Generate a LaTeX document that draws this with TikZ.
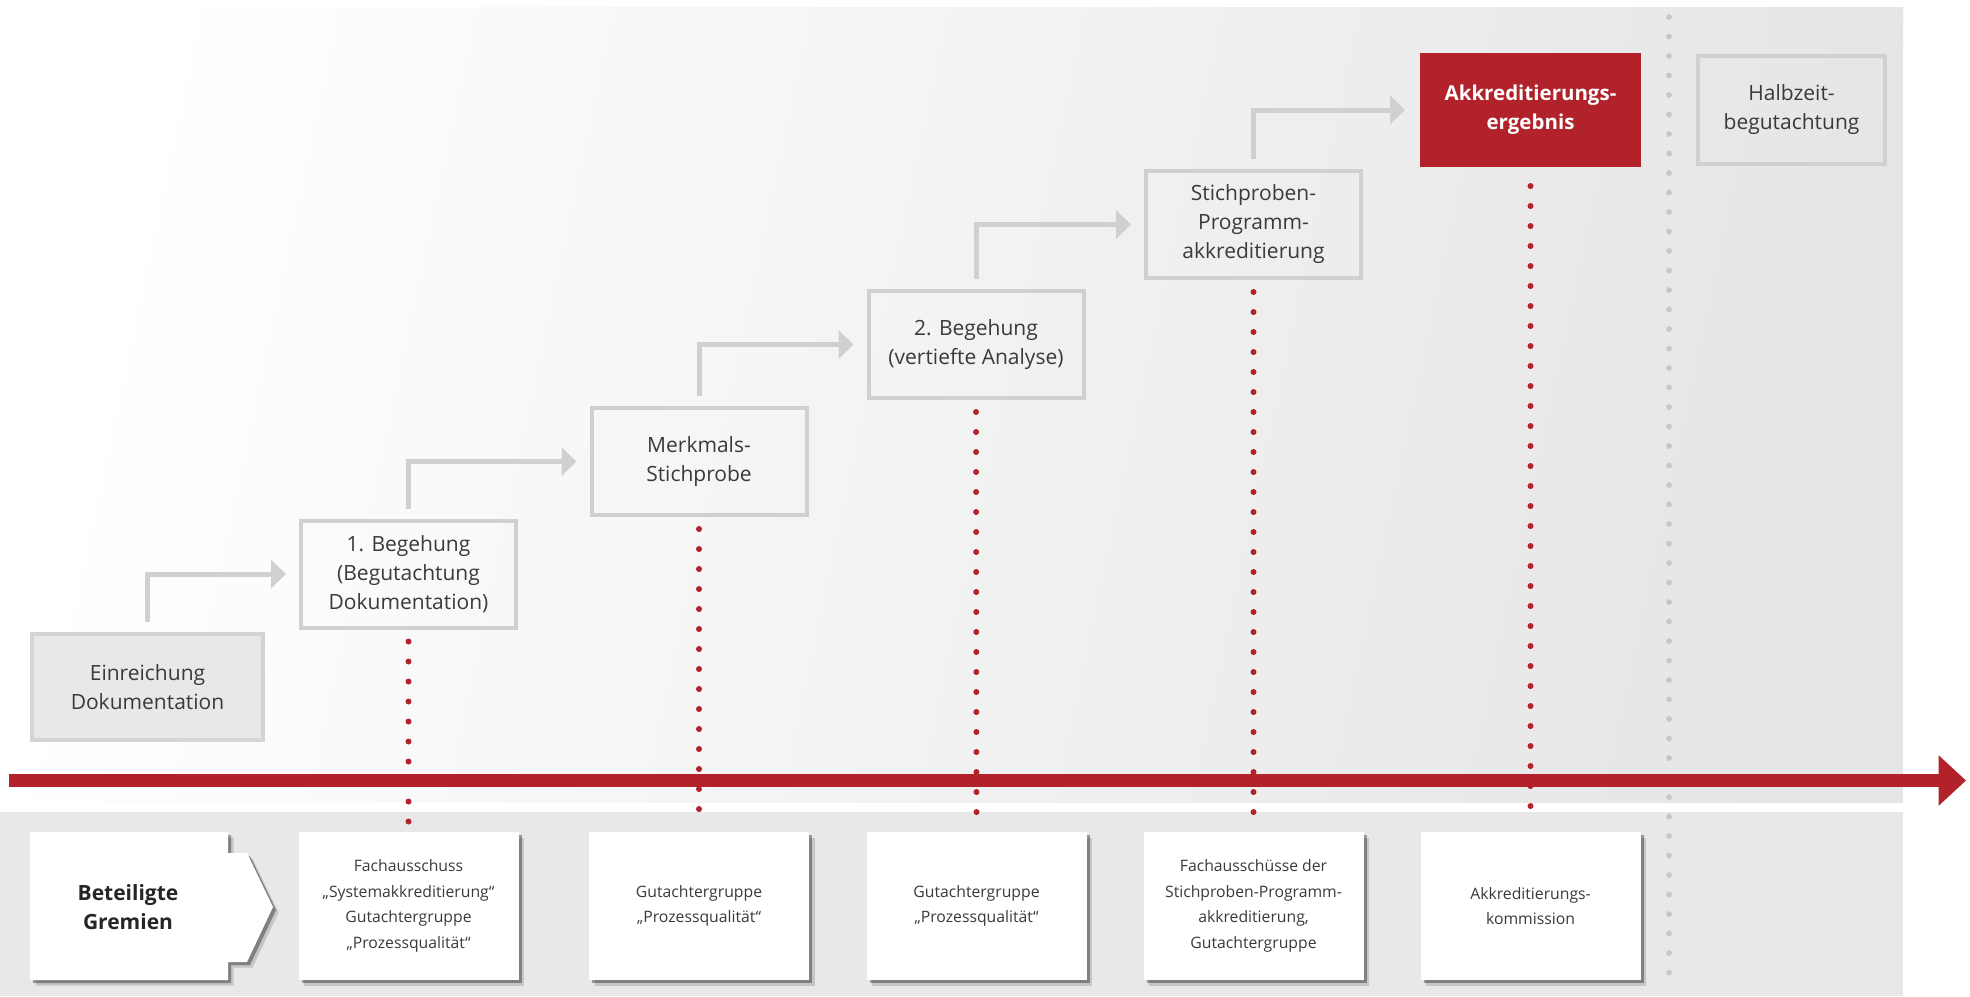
\documentclass[tikz,border=0pt]{standalone}
\usepackage{fontspec}
\setmainfont{Open Sans}
\usetikzlibrary{arrows.meta,shadows}
\definecolor{bred}{HTML}{B2222A}
\definecolor{bgray}{HTML}{D0D0D0}
\definecolor{txt}{HTML}{3A3A3A}
\definecolor{band}{HTML}{E8E8E8}
\tikzset{
  stepbox/.style={draw=bgray, line width=1.6pt, text=txt, align=center,
    minimum width=86pt, minimum height=42.8pt, inner sep=0pt,
    font=\fontsize{8.4}{11.6}\selectfont},
  gremium/.style={fill=white, minimum width=88pt, minimum height=59.2pt,
    inner sep=0pt, align=center, text=txt,
    font=\fontsize{6.3}{10.2}\selectfont, softshadow},
  softshadow/.style={
    drop shadow={shadow xshift=2.2pt, shadow yshift=-2.2pt, fill=black, opacity=0.15},
    drop shadow={shadow xshift=1.2pt, shadow yshift=-1.2pt, fill=black, opacity=0.35}},
  elbow/.style={draw=bgray, line width=2pt, -{Triangle[length=6pt,width=11.2pt]}},
  rdots/.style={draw=bred, line width=2.4pt, line cap=round, dash pattern=on 0pt off 8pt},
  gdots/.style={draw=black!22, line width=2.3pt, line cap=round, dash pattern=on 0pt off 7.8pt},
}
\begin{document}
\begin{tikzpicture}[x=0.4pt,y=-0.4pt]
\useasboundingbox (0,0) rectangle (1970,996);
\fill[white] (0,0) rectangle (1970,996);
% background panels
\shade[top color=white, bottom color=black!10, shading angle=78] (0,7) rectangle (1903,802);
\fill[band] (0,812) rectangle (1903,996);

% grey dotted separator
\coordinate (gtop) at (1669,17);
\coordinate (gbot) at (1669,992);
\draw[gdots] (gtop) -- (gbot);

% process steps
\node[stepbox, fill=black!9, draw=black!17, minimum width=92.4pt, minimum height=42.4pt] (ein) at (147.5,687) {Einreichung\\Dokumentation};
\node[stepbox] (b1) at (408.5,574) {1. Begehung\\(Begutachtung\\Dokumentation)};
\node[stepbox] (mk) at (699,461.5) {Merkmals-\\Stichprobe};
\node[stepbox] (b2) at (976,344.5) {2. Begehung\\(vertiefte Analyse)};
\node[stepbox] (st) at (1253.5,224.5) {Stichproben-\\Programm-\\akkreditierung};
\node[stepbox, draw=none, fill=bred, text=white, minimum width=88.4pt, minimum height=45.6pt,
      font=\fontsize{8.2}{11.6}\selectfont\bfseries] (ak) at (1530.5,110) {Akkreditierungs-\\ergebnis};
\node[stepbox, minimum width=74.8pt, minimum height=43.2pt] (hz) at (1791.5,110) {Halbzeit-\\begutachtung};

% elbow arrows
\draw[elbow] ([yshift=4pt]ein.north) |- ([xshift=-5.2pt]b1.west);
\draw[elbow] ([yshift=4pt]b1.north) |- ([xshift=-5.2pt]mk.west);
\draw[elbow] ([yshift=4pt]mk.north) |- ([xshift=-5.2pt]b2.west);
\draw[elbow] ([yshift=4pt]b2.north) |- ([xshift=-5.2pt]st.west);
\draw[elbow] ([yshift=4pt]st.north) |- ([xshift=-5.2pt]ak.west);

% committees
\node[gremium] (g1) at (408.5,906) {Fachausschuss\\„Systemakkreditierung“\\Gutachtergruppe\\„Prozessqualität“};
\node[gremium] (g2) at (699,906) {Gutachtergruppe\\„Prozessqualität“};
\node[gremium] (g3) at (976.5,906) {Gutachtergruppe\\„Prozessqualität“};
\node[gremium] (g4) at (1253.5,906) {Fachausschüsse der\\Stichproben-Programm-\\akkreditierung,\\Gutachtergruppe};
\node[gremium] (g5) at (1530.5,906) {Akkreditierungs-\\kommission};

% red dotted links
\draw[rdots] ([yshift=-4.8pt]b1.south) -- ([yshift=3pt]g1.north);
\draw[rdots] ([yshift=-4.8pt]mk.south) -- ([yshift=3pt]g2.north);
\draw[rdots] ([yshift=-4.8pt]b2.south) -- ([yshift=3pt]g3.north);
\draw[rdots] ([yshift=-4.8pt]st.south) -- ([yshift=3pt]g4.north);
\draw[rdots] ([yshift=-6.8pt]ak.south) -- ([yshift=3pt]g5.north);

% time line
\coordinate (tl0) at (9,780.5);
\coordinate (tl1) at (1966,780.5);
\draw[bred, line width=5.2pt, -{Triangle[length=11pt,width=19.6pt]}] (tl0) -- (tl1);

% Beteiligte Gremien label shape
\path[fill=white, softshadow] (30,832) -- (228,832) -- (228,853) -- (247,853) -- (273,907)
   -- (247,962) -- (228,962) -- (228,980) -- (30,980) -- cycle;
\node[text=black!85, align=center, font=\fontsize{8.4}{11.6}\selectfont\bfseries] (gre) at (128,907) {Beteiligte\\Gremien};
\end{tikzpicture}
\end{document}
